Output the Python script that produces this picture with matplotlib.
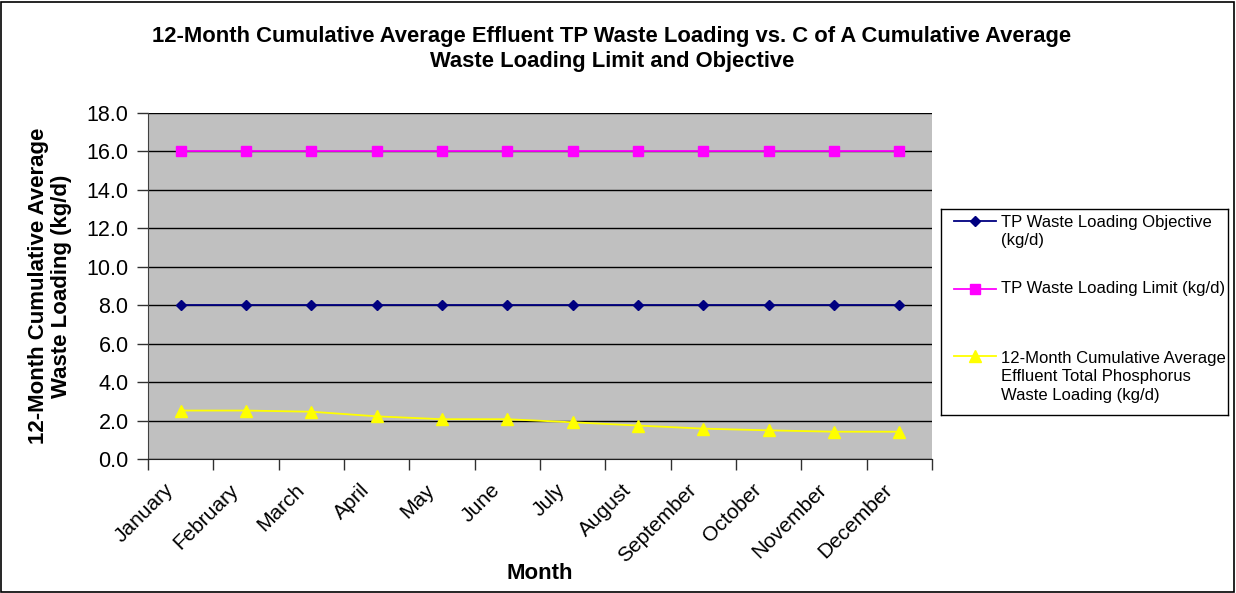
import matplotlib
matplotlib.use("Agg")
import matplotlib.pyplot as plt
from matplotlib.patches import Rectangle
from matplotlib.transforms import ScaledTranslation
import numpy as np

plt.rcParams['font.family'] = ['Liberation Sans', 'DejaVu Sans']

months = ["January", "February", "March", "April", "May", "June", "July",
          "August", "September", "October", "November", "December"]
objective = [8.0] * 12
limit = [16.0] * 12
tp_loading = [2.52, 2.52, 2.46, 2.22, 2.07, 2.07, 1.91, 1.74, 1.58, 1.49, 1.42, 1.42]

label_obj = "TP Waste Loading Objective\n(kg/d)"
label_lim = "TP Waste Loading Limit (kg/d)"
label_tp = "12-Month Cumulative Average\nEffluent Total Phosphorus\nWaste Loading (kg/d)"

W, H = 1236, 593
fig = plt.figure(figsize=(W / 100, H / 100), dpi=100)

def px_box(x0, y0, x1, y1):
    # pixel box (top-left origin) -> figure fraction rect
    return [x0 / W, 1 - y1 / H, (x1 - x0) / W, (y1 - y0) / H]

ax = fig.add_axes(px_box(148, 113, 932, 459))
ax.set_facecolor("#C0C0C0")

series = [
    (objective, dict(color="#000080", marker="D", markersize=5.5), label_obj),
    (limit, dict(color="#FF00FF", marker="s", markersize=6.5), label_lim),
    (tp_loading, dict(color="#FFFF00", marker="^", markersize=8), label_tp),
]

x = np.arange(len(months))
for vals, style, lab in series:
    ax.plot(x, vals, lw=1.3, label=lab, **style)

ax.set_xlim(-0.5, 11.5)
ax.set_ylim(0, 18)
yt = np.arange(0, 18.1, 2)
ax.set_yticks(yt)
ax.set_yticklabels([f"{v:.1f}" for v in yt], fontsize=15.5)
ax.yaxis.grid(True, color="black", lw=1)
ax.set_axisbelow(True)

ax.set_xticks(x)
ax.set_xticklabels(months, rotation=45, ha="right", va="center",
                   rotation_mode="anchor", fontsize=15)
ax.tick_params(axis="x", which="major", length=0, pad=20)
# nudge the slanted month names a little to the left
shift = ScaledTranslation(-10 / 100, 0, fig.dpi_scale_trans)
for t in ax.get_xticklabels():
    t.set_transform(t.get_transform() + shift)
ax.set_xticks(np.arange(-0.5, 12, 1), minor=True)
ax.tick_params(axis="x", which="minor", length=8, width=1, direction="out", color="#303030")
ax.tick_params(axis="y", length=8, width=1, direction="out", color="#303030", pad=6)

for side in ["top", "right"]:
    ax.spines[side].set_visible(False)
ax.spines["left"].set_color("#404040")
ax.spines["bottom"].set_color("#202020")

ax.set_xlabel("Month", fontsize=16, fontweight="bold", labelpad=0)
ax.xaxis.set_label_coords(0.5, -(563 - 459) / (459 - 113))
ax.set_ylabel("12-Month Cumulative Average\nWaste Loading (kg/d)", fontsize=16,
              fontweight="bold", linespacing=1.15)
ax.yaxis.set_label_coords(-(148 - 72) / (932 - 148), 0.5)

fig.text(612 / W, 1 - 49 / H,
         "12-Month Cumulative Average Effluent TP Waste Loading vs. C of A Cumulative Average\n"
         "Waste Loading Limit and Objective",
         ha="center", va="center", fontsize=15.8, fontweight="bold", linespacing=1.25)

# legend box drawn in pixel coordinates
lax = fig.add_axes(px_box(941, 209, 1228, 415))
lax.set_xlim(941, 1228)
lax.set_ylim(415, 209)
lax.set_xticks([])
lax.set_yticks([])
for sp in lax.spines.values():
    sp.set_color("black")
    sp.set_linewidth(1)
first_line = [221, 289, 356]
line_h = 21
for (vals, style, lab), y0 in zip(series, first_line):
    n = lab.count("\n")
    lax.plot([954, 996], [y0, y0], lw=1.3, color=style["color"])
    lax.plot([975], [y0], lw=0, **style)
    lax.text(1001, y0 + n * line_h / 2, lab, ha="left", va="center",
             fontsize=12, linespacing=1.27)

# outer border of the chart area
fig.patches.append(Rectangle((1.5 / W, 1.5 / H), 1 - 3.5 / W, 1 - 3.5 / H,
                             transform=fig.transFigure, fill=False,
                             edgecolor="black", lw=1.2))

fig.savefig("out.png", dpi=100)
